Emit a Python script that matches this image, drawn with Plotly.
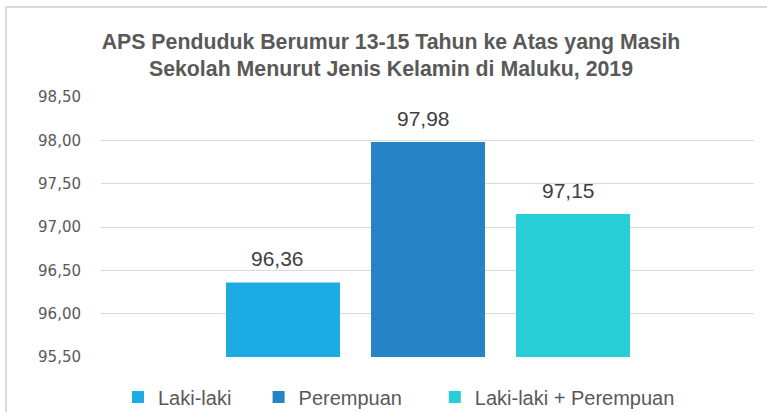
import plotly.graph_objects as go

categories = ["Laki-laki", "Perempuan", "Laki-laki + Perempuan"]
values = [96.36, 97.98, 97.15]
colors = ["#1DABE3", "#2683C6", "#27CED6"]
y_ticks = [95.5, 96.0, 96.5, 97.0, 97.5, 98.0, 98.5]
title_lines = ["APS Penduduk Berumur 13-15 Tahun ke Atas yang Masih",
               "Sekolah Menurut Jenis Kelamin di Maluku, 2019"]
legend_pad = [4, 5, 0]  # trailing spaces to mimic Excel legend spacing

W, H = 767, 412
L, R, T, B = 101, 13, 97, 55
pw, ph = W - L - R, H - T - B

fig = go.Figure()
for cat, val, col, pad in zip(categories, values, colors, legend_pad):
    fig.add_trace(go.Bar(
        x=[cat], y=[val], name=cat + "\u00a0" * pad,
        marker=dict(color=col, line=dict(width=0)),
        width=0.786, hoverinfo="x+y",
    ))
    fig.add_annotation(
        x=cat, y=val, text=f"{val:.2f}".replace(".", ","), showarrow=False,
        yanchor="bottom", yshift=10, xshift=-5,
        font=dict(family="Liberation Sans, Arial", size=21, color="#404040"),
    )

fig.update_layout(
    width=W, height=H,
    margin=dict(l=L, r=R, t=T, b=B, pad=0, autoexpand=False),
    paper_bgcolor="white", plot_bgcolor="white",
    separators=",.",
    barmode="overlay",
    title=dict(
        text="<br>".join(title_lines),
        x=391 / W, xanchor="center", xref="container",
        y=1 - 48.5 / H, yanchor="top", yref="container",
        font=dict(family="Liberation Sans, Arial", size=21.3, color="#595959", weight="bold"),
    ),
    xaxis=dict(
        type="category", categoryorder="array", categoryarray=categories,
        range=[-1.255, 3.248], showticklabels=False, showgrid=False,
        zeroline=False, showline=False, ticks="", automargin=False,
    ),
    yaxis=dict(
        range=[95.5, 98.5], tickvals=y_ticks, tickformat=".2f",
        showgrid=True, gridcolor="#D9D9D9", gridwidth=1.2,
        zeroline=False, showline=False, ticks="", ticklabelstandoff=19,
        automargin=False,
        tickfont=dict(family="DejaVu Sans", size=15, color="#595959"),
    ),
    legend=dict(
        orientation="h", x=(118 - L) / pw, xanchor="left",
        y=(H - B - 397) / ph, yanchor="middle",
        font=dict(family="Liberation Sans, Arial", size=20, color="#595959"),
        itemwidth=30, traceorder="normal",
    ),
    showlegend=True,
)

fig.add_shape(
    type="rect", xref="paper", yref="paper",
    x0=(6 - L) / pw, x1=1.2, y0=-0.5, y1=(H - B - 7) / ph,
    line=dict(color="#D9D9D9", width=2), fillcolor="rgba(0,0,0,0)", layer="below",
)

fig.write_html("out.html", config={"displayModeBar": False},
               post_script="document.body.style.margin='0';")
